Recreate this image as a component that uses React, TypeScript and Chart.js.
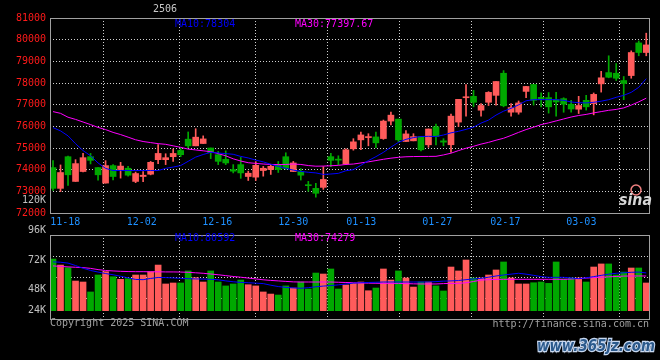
import React, { useEffect, useRef } from 'react';
import { Chart, registerables } from 'chart.js';

Chart.register(...registerables);

// ---- data ----
const tickLabels = ['11-18', '12-02', '12-16', '12-30', '01-13', '01-27', '02-17', '03-03'];
const tickPos = [1.64, 11.81, 21.88, 32.0, 41.06, 51.18, 60.24, 70.36];

const opens = [
  74096, 73137, 74598, 73457, 73914, 74598, 74096, 73380, 74187, 74005,
  74065, 73457, 73685, 73790, 74461, 74461, 74598, 74885, 75407, 75100,
  75207, 75000, 74690, 74475, 74005, 74233, 73685, 73655, 73960, 74005,
  74200, 74598, 73914, 73914, 73290, 73137, 73183, 74600, 74480, 74265,
  74964, 75375, 75480, 75512, 75435, 76242, 76333, 75300, 75330, 75525,
  75147, 75982, 75330, 75150, 76196, 77320, 77384, 76745, 77110, 77430,
  78450, 76653, 76653, 77612, 77932, 77340, 77325, 77232, 77278, 77020,
  76790, 77201, 77050, 77960, 78480, 78450, 78114, 78343, 79850, 79407,
];
const highs = [
  74416, 74218, 74630, 74461, 74749, 74749, 74096, 74416, 74230, 74340,
  74150, 73890, 73914, 74380, 75160, 74735, 74950, 75000, 75740, 75890,
  75560, 75000, 74840, 74870, 74233, 74566, 73930, 74370, 74150, 74250,
  74380, 74780, 74380, 74050, 73460, 73365, 74140, 74750, 74640, 74960,
  75430, 75740, 75660, 75740, 76290, 76660, 76333, 75800, 75660, 75525,
  75877, 76105, 75430, 76560, 77247, 77930, 77658, 77050, 77600, 78069,
  78571, 77050, 77170, 77850, 77932, 77550, 77560, 77567, 77320, 77200,
  77384, 77430, 77540, 78540, 79256, 78900, 78300, 79484, 79940, 80300,
];
const lows = [
  73046, 72986, 73274, 73457, 73891, 74265, 73516, 73380, 73530, 73610,
  73700, 73400, 73443, 73760, 74279, 74233, 74385, 74600, 75010, 75100,
  75207, 74510, 74233, 74233, 73850, 73600, 73500, 73500, 73700, 73780,
  73870, 74005, 73914, 73520, 73000, 72725, 73091, 74140, 74233, 74230,
  74900, 74918, 75100, 75010, 75400, 76060, 75300, 75300, 75330, 74870,
  75030, 75147, 75100, 74800, 75990, 76470, 76900, 76470, 76960, 76980,
  76900, 76470, 76560, 77325, 76980, 76900, 76610, 76470, 76650, 76650,
  76590, 76750, 76530, 77580, 78240, 78114, 77230, 78220, 79256, 79256,
];
const closes = [
  73137, 73868, 73763, 74279, 74553, 74431, 73763, 74187, 73685, 74165,
  73745, 73822, 73745, 74340, 74749, 74553, 74749, 74690, 75100, 75500,
  75420, 74780, 74384, 74310, 73930, 73850, 73836, 74200, 74065, 74156,
  74005, 74050, 74310, 73745, 73260, 72910, 73548, 74430, 74440, 74918,
  75284, 75603, 75510, 75238, 76242, 76516, 75375, 75650, 75525, 74918,
  75877, 75525, 75270, 76470, 77247, 77360, 77110, 76960, 77567, 78069,
  76950, 76867, 77080, 77840, 77201, 77250, 76900, 77125, 77020, 76800,
  76960, 76900, 77475, 78240, 78265, 78220, 77977, 79407, 79407, 79758,
];
const ma10 = [
  75940, 75790, 75560, 75200, 74880, 74640, 74310, 74060, 73960, 73960,
  73960, 73960, 73960, 73960, 73960, 74060, 74120, 74190, 74385, 74580,
  74700, 74800, 74770, 74740, 74710, 74612, 74540, 74440, 74360, 74250,
  74150, 74060, 73980, 73920, 73880, 73850, 73780, 73800, 73830, 73950,
  74000, 74200, 74420, 74600, 74800, 75040, 75260, 75400, 75480, 75530,
  75540, 75530, 75600, 75700, 75770, 75860, 75960, 76150, 76288, 76520,
  76700, 76830, 76990, 77180, 77232, 77232, 77232, 77232, 77200, 77125,
  77090, 77080, 77110, 77160, 77230, 77340, 77430, 77570, 77800, 78200,
];
const ma30 = [
  76680, 76600, 76420, 76320, 76200, 76080, 75950, 75850, 75720, 75620,
  75500, 75380, 75300, 75250, 75200, 75170, 75100, 75030, 74950, 74910,
  74870, 74830, 74740, 74640, 74500, 74400, 74320, 74290, 74260, 74240,
  74235, 74240, 74260, 74240, 74190, 74160, 74165, 74180, 74200, 74240,
  74260, 74310, 74360, 74420, 74480, 74530, 74570, 74595, 74605, 74610,
  74612, 74615, 74680, 74760, 74880, 74990, 75080, 75180, 75260, 75360,
  75450, 75580, 75720, 75850, 75960, 76080, 76160, 76250, 76340, 76430,
  76500, 76550, 76620, 76680, 76740, 76780, 76850, 76980, 77130, 77300,
];
const volumes = [
  72800, 67900, 65700, 54900, 54100, 46000, 59800, 62500, 58400, 56300,
  56800, 59800, 59800, 62500, 67900, 52500, 53300, 53300, 63100, 57600,
  54100, 63100, 54100, 50900, 52500, 55700, 51900, 50900, 46000, 44300,
  43500, 50900, 49200, 54100, 48400, 61400, 60600, 64700, 48400, 51700,
  53000, 54100, 47000, 49200, 64700, 55700, 63100, 57400, 50000, 54100,
  54100, 50900, 46800, 66300, 63100, 72000, 57400, 57400, 59800, 63900,
  70400, 57400, 52500, 52500, 53500, 54100, 53000, 70400, 56500, 57400,
  57400, 54100, 66300, 68800, 68800, 59800, 62200, 65500, 65500, 53300,
];
const volMa10 = [
  70500, 70200, 69500, 67500, 65300, 63500, 62200, 61000, 60000, 58800,
  57500, 56200, 56000, 57000, 57800, 57700, 57400, 57100, 56800, 56600,
  56500, 56300, 55900, 55000, 54300, 53800, 53500, 53200, 52800, 51500,
  50400, 49700, 49300, 49000, 49500, 50200, 50800, 51200, 51800, 52500,
  53200, 53500, 53700, 53900, 54100, 54100, 54100, 54100, 54100, 54100,
  54100, 54400, 54800, 55000, 55300, 56000, 56600, 57100, 58000, 59000,
  59800, 60500, 61200, 60500, 59500, 58500, 57900, 57900, 57900, 57400,
  56800, 57500, 58500, 59500, 60500, 61200, 61600, 62000, 62200, 61500,
];
const volMa30 = [
  67200, 66800, 66400, 66100, 65800, 65200, 64200, 63500, 63100, 62800,
  62600, 62500, 62500, 62400, 62400, 62300, 62300, 62200, 62000, 61600,
  61200, 60600, 60000, 59300, 58600, 58000, 57300, 56600, 55900, 55400,
  55000, 54600, 54200, 54100, 54100, 54100, 54100, 54100, 53900, 53700,
  53500, 53300, 53200, 53100, 53000, 53000, 53000, 52800, 52600, 52500,
  52500, 52500, 52800, 53000, 53000, 53500, 54500, 55700, 56000, 56200,
  56300, 56300, 56300, 56300, 56300, 56300, 56300, 56300, 56300, 56500,
  57000, 57300, 57700, 58000, 58300, 58600, 58900, 59000, 59000, 59000,
];
const volTickLabels = ['96K', '72K', '48K', '24K'];
const volTickValues = [96000, 72000, 48000, 24000];

const titleText = '2506';
const priceMaText = ['MA10:78304', 'MA30:77397.67'];
const volMaText = ['MA10:80592', 'MA30:74279'];

// ---- styles ----
const RISE = '#ff5b5b';
const FALL = '#00a800';
const BLUE = '#0000ff';
const MAGENTA = '#ff00ff';
const GRID = '#d0d0d0';
const FRAME = '#a0a0a0';
const LABEL_GREY = '#c0c0c0';
const RED = '#ff1a1a';
const FONT = '"DejaVu Sans Mono", monospace';

const X_MIN = -0.4;
const X_MAX = 79.5;
const P_MIN = 72000;
const P_MAX = 81000;
const V_MIN = 24000;
const V_MAX = 92350;
const V_BASE = 30800;

const framePlugin = {
  id: 'frame',
  afterDraw(chart: any) {
    const { ctx, chartArea: a } = chart;
    ctx.save();
    ctx.strokeStyle = FRAME;
    ctx.lineWidth = 1;
    ctx.strokeRect(Math.round(a.left) + 0.5, Math.round(a.top) + 0.5, Math.round(a.right - a.left) - 1, Math.round(a.bottom - a.top));
    ctx.restore();
  },
};

function txt(ctx: any, s: string, x: number, y: number, color: string, align: string = 'left') {
  ctx.fillStyle = color;
  ctx.textAlign = align;
  ctx.textBaseline = 'middle';
  ctx.fillText(s, x, y);
}

const priceTextPlugin = {
  id: 'priceText',
  afterDraw(chart: any) {
    const { ctx } = chart;
    ctx.save();
    ctx.font = `10px ${FONT}`;
    txt(ctx, titleText, 165, 9, '#c8c8c8', 'center');
    txt(ctx, priceMaText[0], 175, 24, BLUE);
    txt(ctx, priceMaText[1], 295, 24, MAGENTA);
    txt(ctx, '120K', 46, 200, LABEL_GREY, 'right');
    // sina logo
    ctx.strokeStyle = '#f08080';
    ctx.lineWidth = 1.5;
    ctx.beginPath();
    ctx.arc(636, 190, 5, 0, Math.PI * 2);
    ctx.stroke();
    ctx.font = `italic bold 15px "DejaVu Sans"`;
    ctx.fillStyle = '#d8d8d8';
    ctx.textAlign = 'left';
    ctx.textBaseline = 'alphabetic';
    ctx.fillText('sina', 619, 205, 33);
    ctx.restore();
  },
};

const volTextPlugin = {
  id: 'volText',
  afterDraw(chart: any) {
    const { ctx, chartArea: a } = chart;
    const ys = chart.scales.y;
    ctx.save();
    ctx.font = `10px ${FONT}`;
    volTickValues.forEach((v, i) => {
      const py = Math.min(ys.getPixelForValue(v), a.bottom - 8.5);
      txt(ctx, volTickLabels[i], 46, py, LABEL_GREY, 'right');
    });
    txt(ctx, volMaText[0], 175, a.top + 3.5, BLUE);
    txt(ctx, volMaText[1], 295, a.top + 3.5, MAGENTA);
    txt(ctx, 'Copyright 2025 SINA.COM', 50, a.bottom + 4.5, '#a0a0a0');
    txt(ctx, 'http://finance.sina.com.cn', 649, a.bottom + 5, '#a0a0a0', 'right');
    // watermark
    ctx.font = `italic bold 16px "DejaVu Sans"`;
    ctx.textAlign = 'left';
    ctx.textBaseline = 'alphabetic';
    ctx.lineWidth = 2.5;
    ctx.strokeStyle = '#c8d8f0';
    ctx.strokeText('www.365jz.com', 537, a.bottom + 32, 118);
    ctx.fillStyle = '#2c5a8c';
    ctx.fillText('www.365jz.com', 537, a.bottom + 32, 118);
    ctx.restore();
  },
};

export default function App() {
  const priceRef = useRef<HTMLCanvasElement>(null);
  const volRef = useRef<HTMLCanvasElement>(null);

  useEffect(() => {
    const idx = closes.map((_, i) => i);
    const colors = idx.map((i) => (closes[i] >= opens[i] ? RISE : FALL));
    const font = { family: FONT, size: 10 };
    const xBuild = (s: any) => {
      s.ticks = tickPos.map((v) => ({ value: v }));
    };

    const price = new Chart(priceRef.current!, {
      type: 'bar',
      data: {
        datasets: [
          {
            type: 'line',
            data: idx.map((i) => ({ x: i, y: ma10[i] })),
            borderColor: BLUE,
            borderWidth: 1,
            pointRadius: 0,
            tension: 0,
            order: 0,
          } as any,
          {
            type: 'line',
            data: idx.map((i) => ({ x: i, y: ma30[i] })),
            borderColor: MAGENTA,
            borderWidth: 1,
            pointRadius: 0,
            tension: 0,
            order: 0,
          } as any,
          {
            type: 'bar',
            data: idx.map((i) => ({ x: i, y: [opens[i], closes[i]] })),
            backgroundColor: colors,
            barThickness: 6,
            minBarLength: 1,
            grouped: false,
            order: 1,
          } as any,
          {
            type: 'bar',
            data: idx.map((i) => ({ x: i, y: [lows[i], highs[i]] })),
            backgroundColor: colors,
            barThickness: 1,
            grouped: false,
            order: 2,
          } as any,
        ],
      },
      options: {
        responsive: false,
        animation: false,
        devicePixelRatio: 1,
        layout: { padding: { top: 18, right: 10, left: 0, bottom: 0 } },
        plugins: { legend: { display: false }, tooltip: { enabled: false }, title: { display: false } },
        scales: {
          x: {
            type: 'linear',
            min: X_MIN,
            max: X_MAX,
            offset: false,
            afterBuildTicks: xBuild,
            afterFit: (s: any) => {
              s.height = 15;
            },
            ticks: {
              autoSkip: false,
              maxRotation: 0,
              color: '#1e90ff',
              font,
              padding: 3,
              callback: (_v: any, i: number) => tickLabels[i],
            },
            grid: { color: GRID, drawTicks: false, lineWidth: 1 },
            border: { display: false, dash: [1, 2] },
          },
          y: {
            min: P_MIN,
            max: P_MAX,
            afterFit: (s: any) => {
              s.width = 50;
            },
            ticks: {
              stepSize: 1000,
              color: RED,
              font,
              padding: 4,
              callback: (v: any) => String(v),
            },
            grid: { color: GRID, drawTicks: false, lineWidth: 1 },
            border: { display: false, dash: [1, 2] },
          },
        },
      } as any,
      plugins: [framePlugin, priceTextPlugin],
    });

    const vol = new Chart(volRef.current!, {
      type: 'bar',
      data: {
        datasets: [
          {
            type: 'line',
            data: idx.map((i) => ({ x: i, y: volMa10[i] })),
            borderColor: BLUE,
            borderWidth: 1,
            pointRadius: 0,
            tension: 0,
            order: 0,
          } as any,
          {
            type: 'line',
            data: idx.map((i) => ({ x: i, y: volMa30[i] })),
            borderColor: MAGENTA,
            borderWidth: 1,
            pointRadius: 0,
            tension: 0,
            order: 0,
          } as any,
          {
            type: 'bar',
            data: idx.map((i) => ({ x: i, y: volumes[i] })),
            backgroundColor: colors,
            barThickness: 6,
            base: V_BASE,
            grouped: false,
            order: 1,
          } as any,
        ],
      },
      options: {
        responsive: false,
        animation: false,
        devicePixelRatio: 1,
        layout: { padding: { top: 11, right: 10, left: 0, bottom: 41 } },
        plugins: { legend: { display: false }, tooltip: { enabled: false }, title: { display: false } },
        scales: {
          x: {
            type: 'linear',
            min: X_MIN,
            max: X_MAX,
            offset: false,
            afterBuildTicks: xBuild,
            afterFit: (s: any) => {
              s.height = 0;
            },
            ticks: { display: false },
            grid: { color: GRID, drawTicks: false, lineWidth: 1 },
            border: { display: false, dash: [1, 2] },
          },
          y: {
            min: V_MIN,
            max: V_MAX,
            afterFit: (s: any) => {
              s.width = 50;
            },
            afterBuildTicks: (s: any) => {
              s.ticks = [1, 2, 3].map((k) => ({ value: V_MIN + (k * (V_MAX - V_MIN)) / 4 }));
            },
            ticks: { display: false },
            grid: { color: GRID, drawTicks: false, lineWidth: 1 },
            border: { display: false, dash: [1, 2] },
          },
        },
      } as any,
      plugins: [framePlugin, volTextPlugin],
    });

    return () => {
      price.destroy();
      vol.destroy();
    };
  }, []);

  return (
    <div style={{ position: 'fixed', left: 0, top: 0, width: 660, height: 360, background: '#000', overflow: 'hidden' }}>
      <canvas ref={priceRef} width={660} height={228} style={{ position: 'absolute', left: 0, top: 0 }} />
      <canvas ref={volRef} width={660} height={136} style={{ position: 'absolute', left: 0, top: 224 }} />
    </div>
  );
}
